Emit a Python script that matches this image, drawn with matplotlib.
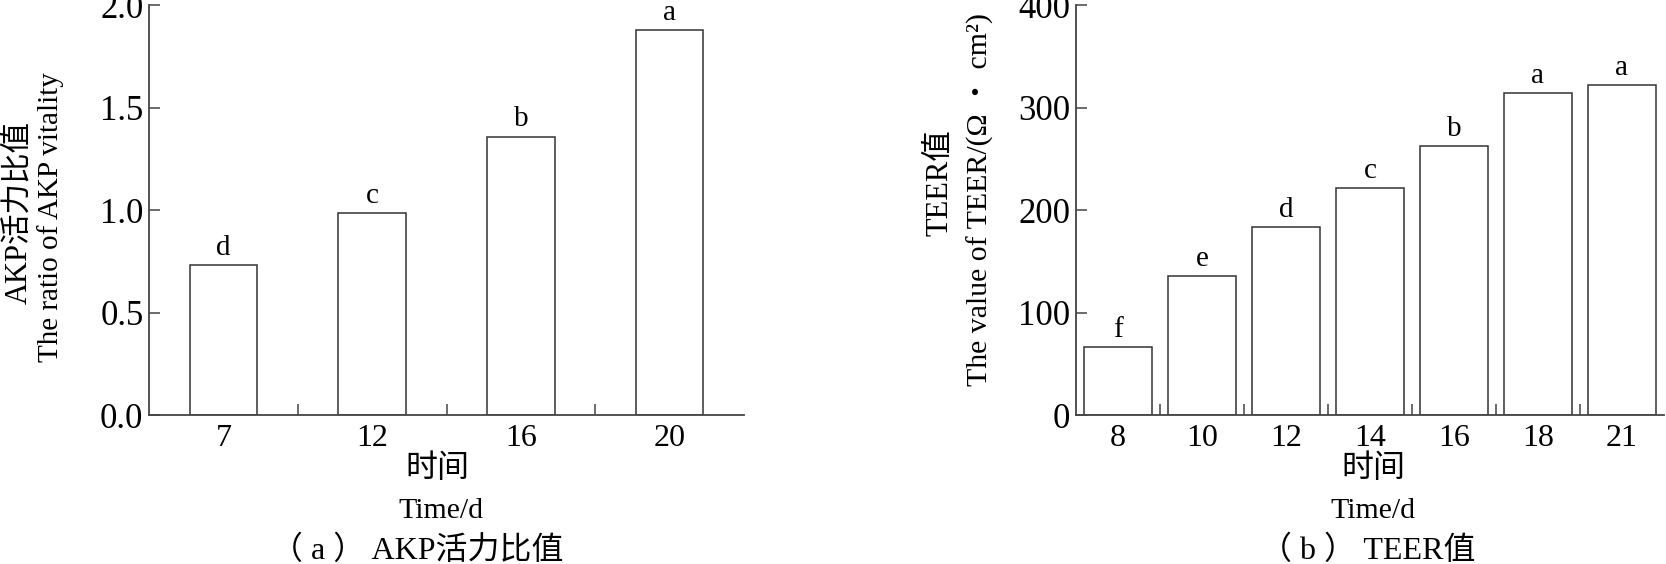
import matplotlib
matplotlib.use("Agg")
import matplotlib.pyplot as plt
import numpy as np

# ---- data ----
akp_days = ["7", "12", "16", "20"]
akp_values = [0.735, 0.985, 1.36, 1.88]
akp_letters = ["d", "c", "b", "a"]

teer_days = ["8", "10", "12", "14", "16", "18", "21"]
teer_values = [67, 136, 184, 222, 263, 314, 322]
teer_letters = ["f", "e", "d", "c", "b", "a", "a"]

FAM = ["Liberation Serif", "Noto Sans CJK SC", "DejaVu Sans"]
plt.rcParams["font.family"] = FAM
plt.rcParams["mathtext.fontset"] = "stix"

W, H = 1666, 564
fig = plt.figure(figsize=(W / 100, H / 100), dpi=100)

def px_axes(x0, y0, x1, y1):
    return fig.add_axes([x0 / W, 1 - y1 / H, (x1 - x0) / W, (y1 - y0) / H])

ax1 = px_axes(149, 5.3, 744, 415.4)
ax2 = px_axes(1076, 5.3, 1664, 415.4)

spine_col = "#444444"

def style(ax, n, ylim, yticks, yticklabels, width, labels, values, letters):
    x = np.arange(n)
    ax.bar(x, values, width=width, facecolor="white", edgecolor="#333333",
           linewidth=1.1, zorder=2)
    for xi, v, l in zip(x, values, letters):
        ax.annotate(l, (xi, v), xytext=(0, 3), textcoords="offset points",
                    ha="center", va="bottom", fontsize=21)
    ax.set_xlim(-0.5, n - 0.5)
    ax.set_ylim(*ylim)
    ax.set_yticks(yticks)
    ax.set_yticklabels(yticklabels)
    ax.set_xticks(x)
    ax.set_xticklabels(labels)
    ax.set_xticks(np.arange(n - 1) + 0.5, minor=True)
    for s in ["top", "right"]:
        ax.spines[s].set_visible(False)
    for s in ["left", "bottom"]:
        ax.spines[s].set_color(spine_col)
        ax.spines[s].set_linewidth(1.3)
    ax.tick_params(axis="y", direction="in", length=8, width=1.1,
                   color=spine_col, labelsize=25, pad=4)
    ax.tick_params(axis="x", which="major", length=0, labelsize=23, pad=6)
    ax.tick_params(axis="x", which="minor", direction="in", length=8,
                   width=1.1, color=spine_col)

style(ax1, 4, (0, 2.0), [0, 0.5, 1.0, 1.5, 2.0],
      ["0.0", "0.5", "1.0", "1.5", "2.0"], 0.455, akp_days, akp_values, akp_letters)
style(ax2, 7, (0, 400), [0, 100, 200, 300, 400],
      ["0", "100", "200", "300", "400"], 0.8, teer_days, teer_values, teer_letters)

def ftext(x, y, s, size, rot=0):
    fig.text(x / W, 1 - y / H, s, ha="center", va="center", fontsize=size,
             rotation=rot, family=FAM)

# left y labels
ftext(19, 212, "AKP活力比值", 22, 90)
ftext(51, 217, "The ratio of AKP vitality", 21, 90)
# right y labels
ftext(940, 183, "TEER值", 22, 90)
ftext(980, 199, "The value of TEER/(Ω ・ cm²)", 21.5, 90)

# bottom texts
ftext(437, 469, "时间", 23)
ftext(441, 511, "Time/d", 21.5)
ftext(417, 551, "（ a ） AKP活力比值", 23)

ftext(1373, 469, "时间", 23)
ftext(1373, 511, "Time/d", 21.5)
ftext(1368, 551, "（ b ） TEER值", 23)

fig.savefig("out.png", dpi=100, facecolor="white")
